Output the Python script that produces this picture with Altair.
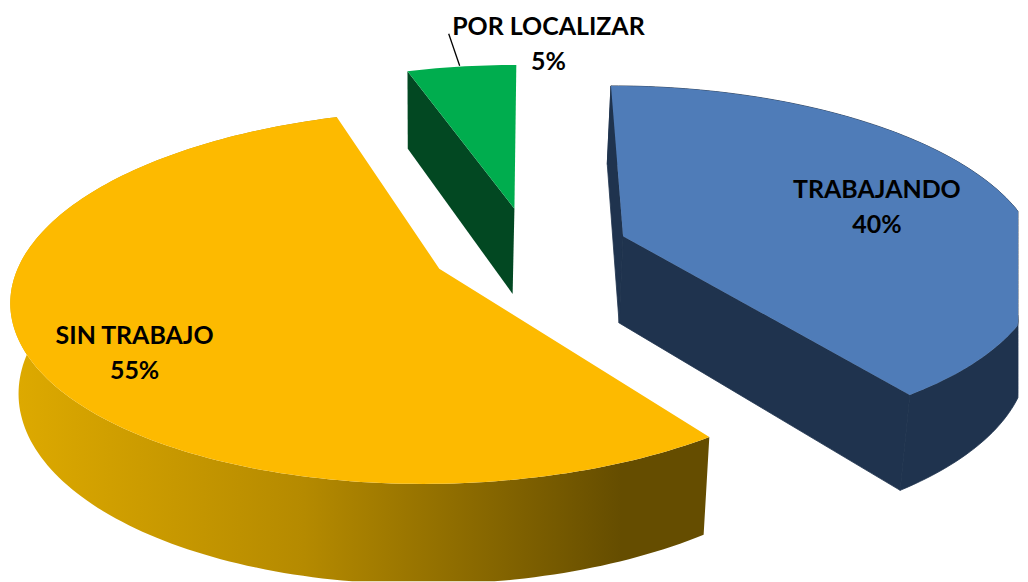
import math
import altair as alt

categories = ["TRABAJANDO", "SIN TRABAJO", "POR LOCALIZAR"]
shares = [40, 55, 5]
top_colors = ["#4f7cb8", "#fdba00", "#00ad4e"]
wall_colors = ["#1f334e", None, "#024822"]

PAGE = 8
W, H = 1012, 574
X0, Y0, A, B, K, EXPLODE = 530, 249, 416, 177, 0.15, 0.24


def screen(u, v):
    w = 1 - K * v
    return (X0 + A * u / w, Y0 + B * v / w)


def lower(p):
    return (p[0] * 0.98 + 8.5, p[1] * 1.055 + 74)


def page(pts):
    pts = [(round(min(max(x - PAGE, 0), W), 2), round(min(max(y - PAGE, 0), H), 2)) for x, y in pts]
    return pts + [pts[0]]


def feature(name, pts):
    return {"type": "Feature", "properties": {"name": name},
            "geometry": {"type": "Polygon", "coordinates": [[list(p) for p in page(pts)]]}}


features = [{"type": "Feature", "properties": {"name": "frame"},
             "geometry": {"type": "Polygon",
                          "coordinates": [[[0, 0], [W, 0], [W, H], [0, H], [0, 0]]]}}]
start = 0.0
for cat, share in zip(categories, shares):
    end = start + share * 3.6
    mid = math.radians((start + end) / 2)
    ou, ov = EXPLODE * math.sin(mid), -EXPLODE * math.cos(mid)
    n = max(8, int(share * 3))
    arc = []
    for i in range(n + 1):
        t = math.radians(start + (end - start) * i / n)
        arc.append(screen(ou + math.sin(t), ov - math.cos(t)))
    apex = screen(ou, ov)
    low_arc = [lower(p) for p in arc]
    if cat == "SIN TRABAJO":
        features.append(feature("rim", arc + low_arc[::-1]))
    elif cat == "TRABAJANDO":
        features.append(feature("wall0", arc + low_arc[::-1]))
        features.append(feature("wall0", [apex, arc[0], low_arc[0], lower(apex)]))
        features.append(feature("wall0", [apex, arc[-1], low_arc[-1], lower(apex)]))
    else:
        features.append(feature("wall2", [apex, arc[0], low_arc[0], lower(apex)]))
    features.append(feature("top" + str(categories.index(cat)), [apex] + arc))
    start = end

geo = alt.Data(values=features)


def shape(name, **kw):
    kw.setdefault("strokeWidth", 0)
    return alt.Chart(geo).transform_filter(f"datum.properties.name == '{name}'").mark_geoshape(
        **kw).project(type="identity")


rim_gradient = alt.Gradient(
    gradient="linear", x1=0, y1=0, x2=1, y2=0,
    stops=[alt.GradientStop(color="#deaa00", offset=0),
           alt.GradientStop(color="#b58a00", offset=0.42),
           alt.GradientStop(color="#654d00", offset=0.875),
           alt.GradientStop(color="#654d00", offset=1)],
)

layers = [
    shape("frame", fill="transparent"),
    shape("wall2", fill=wall_colors[2]),
    shape("wall0", fill=wall_colors[0], stroke=wall_colors[0], strokeWidth=0.8),
    shape("rim", fill=rim_gradient),
    shape("top0", fill=top_colors[0]),
    shape("top1", fill=top_colors[1]),
    shape("top2", fill=top_colors[2]),
]

leader = alt.Chart(alt.Data(values=[{}])).mark_rule(color="#000000", strokeWidth=1.3).encode(
    x=alt.value(441), y=alt.value(25), x2=alt.value(452), y2=alt.value(57))
layers.append(leader)

label_at = [(870.5, 190), (126, 336), (541, 26)]
for cat, share, (lx, ly) in zip(categories, shares, label_at):
    t = alt.Chart(alt.Data(values=[{"label": f"{cat}\n{share}%"}])).mark_text(
        font="Lato", fontWeight="bold", fontSize=25, color="#000000",
        lineBreak="\n", lineHeight=35, align="center", baseline="alphabetic",
    ).encode(text="label:N", x=alt.value(lx), y=alt.value(ly))
    layers.append(t)

chart = alt.layer(*layers).properties(width=W, height=H, padding=0).configure_view(stroke=None)
chart.save("out.html", embed_options={"renderer": "svg", "actions": False})
